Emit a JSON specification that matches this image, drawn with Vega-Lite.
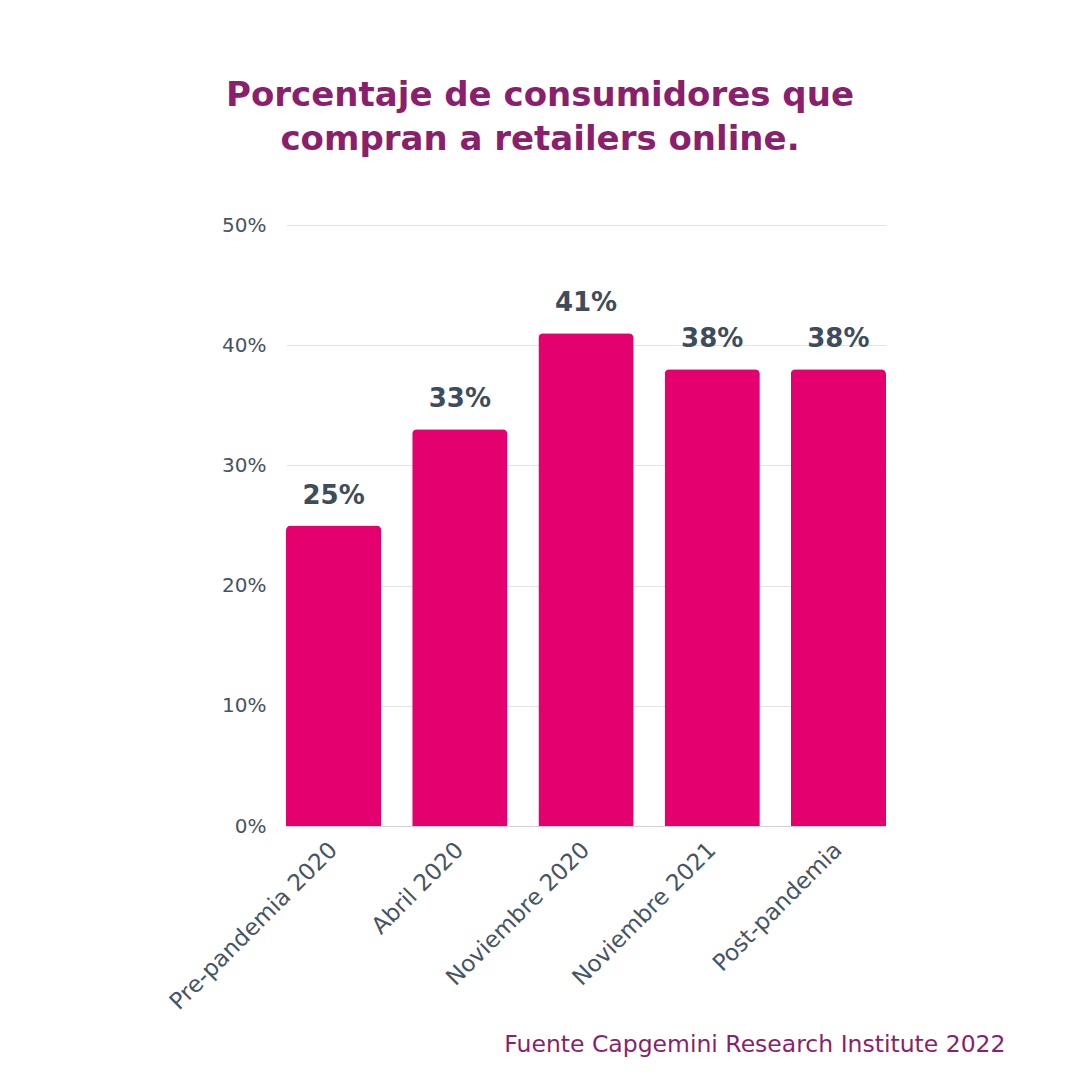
{
  "$schema": "https://vega.github.io/schema/vega-lite/v6.json",
  "width": 600,
  "height": 601,
  "autosize": {"type": "none"},
  "padding": {"left": 286, "top": 225, "right": 194, "bottom": 254},
  "background": "#ffffff",
  "title": {
    "text": ["Porcentaje de consumidores que", "compran a retailers online."],
    "anchor": "middle",
    "dx": -46,
    "offset": 58,
    "font": "DejaVu Sans",
    "fontSize": 34,
    "fontWeight": "bold",
    "color": "#8A1F6E",
    "lineHeight": 44
  },
  "data": {
    "values": [
      {"periodo": "Pre-pandemia 2020", "valor": 0.25},
      {"periodo": "Abril 2020", "valor": 0.33},
      {"periodo": "Noviembre 2020", "valor": 0.41},
      {"periodo": "Noviembre 2021", "valor": 0.38},
      {"periodo": "Post-pandemia", "valor": 0.38}
    ]
  },
  "config": {
    "view": {"stroke": null},
    "font": "DejaVu Sans"
  },
  "encoding": {
    "x": {
      "field": "periodo",
      "type": "nominal",
      "sort": null,
      "scale": {"paddingInner": 0.245, "paddingOuter": 0},
      "axis": {
        "title": "Fuente Capgemini Research Institute 2022",
        "titleAnchor": "end",
        "titleAlign": "right",
        "titleX": 719,
        "titleY": 225,
        "titleBaseline": "alphabetic",
        "titleColor": "#8A1F6E",
        "titleFont": "DejaVu Sans",
        "titleFontSize": 23.5,
        "titleFontWeight": "normal",
        "labelAngle": -45,
        "labelAlign": "right",
        "labelBaseline": "middle",
        "labelFont": "DejaVu Sans",
        "labelFontSize": 23,
        "labelColor": "#465463",
        "labelPadding": 20,
        "labelLimit": 0,
        "ticks": false,
        "domain": true,
        "domainColor": "#d0d0d0",
        "domainWidth": 1,
        "grid": false
      }
    },
    "y": {
      "field": "valor",
      "type": "quantitative",
      "scale": {"domain": [0, 0.5]},
      "axis": {
        "title": null,
        "format": ".0%",
        "values": [0, 0.1, 0.2, 0.3, 0.4, 0.5],
        "labelFont": "DejaVu Sans",
        "labelFontSize": 20,
        "labelColor": "#465463",
        "labelPadding": 20,
        "ticks": false,
        "domain": false,
        "grid": true,
        "gridColor": "#e3e3e3",
        "gridWidth": 1
      }
    }
  },
  "layer": [
    {
      "mark": {"type": "bar", "color": "#E5006F", "cornerRadiusTopLeft": 5, "cornerRadiusTopRight": 5}
    },
    {
      "mark": {"type": "text", "baseline": "alphabetic", "dy": -22, "font": "DejaVu Sans", "fontSize": 26, "fontWeight": "bold", "color": "#3D4D5C"},
      "encoding": {
        "text": {"field": "valor", "type": "quantitative", "format": ".0%"}
      }
    }
  ]
}
